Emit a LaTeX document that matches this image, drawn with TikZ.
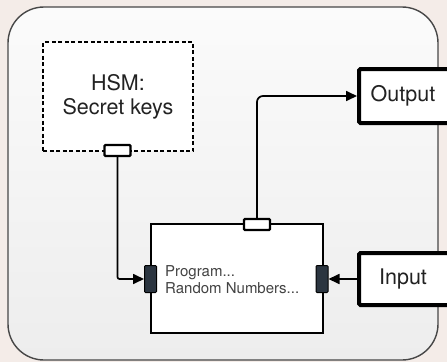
\documentclass[tikz,border=0pt]{standalone}
\usepackage{fontspec}
\setmainfont{TeX Gyre Heros}
\usetikzlibrary{arrows.meta}

\definecolor{pagebg}{HTML}{F4ECE8}
\definecolor{frameline}{HTML}{474747}
\definecolor{frametop}{HTML}{FBFBFB}
\definecolor{framebot}{HTML}{EDEDED}
\definecolor{portdark}{HTML}{2B3540}
\definecolor{txt}{HTML}{222222}

\tikzset{
  bigtext/.style={font=\fontsize{21.5}{25}\selectfont, text=txt},
  smalltext/.style={font=\fontsize{15}{17.5}\selectfont, text=txt!85},
  hsmbox/.style={draw=black, fill=white, dashed, dash pattern=on 4pt off 2.5pt,
    line width=1.3pt, minimum width=150pt, minimum height=109pt, inner sep=0pt,
    align=center},
  mainbox/.style={draw=black, fill=white, line width=1.5pt,
    minimum width=172pt, minimum height=109pt, inner sep=0pt},
  iobox/.style={draw=black, fill=white, line width=4pt, rounded corners=1.5pt,
    minimum width=96pt, inner sep=0pt},
  portlight/.style={draw=black, fill=white, line width=2.2pt, rounded corners=1pt,
    minimum width=26pt, minimum height=11pt, inner sep=0pt},
  portside/.style={draw=black, fill=portdark, line width=1pt, rounded corners=1pt,
    minimum width=12pt, minimum height=27pt, inner sep=0pt},
  wire/.style={draw=black, line width=1.7pt},
  tip/.style={-{Triangle[length=11pt,width=10pt]}},
}

\begin{document}
\begin{tikzpicture}[x=1pt,y=-1pt]
  % page and bounding box
  \fill[pagebg] (0,0) rectangle (447,362);
  \useasboundingbox (0,0) rectangle (447,362);

  % rounded enclosure with a soft vertical gradient
  \shade[top color=frametop, bottom color=framebot, rounded corners=36pt]
    (8,7) rectangle (438,360);
  \draw[frameline, line width=1.4pt, rounded corners=36pt]
    (8,7) rectangle (438,360);

  % HSM holding the keys
  \node[hsmbox, bigtext] (hsm) at (118,96.5) {HSM:\\[-1pt]Secret keys};
  \node[portlight] (hsmport) at (117.5,150.5) {};

  % processing unit
  \node[mainbox] (main) at (237,278.5) {};
  \node[portlight] (topport) at (257,224.5) {};
  \node[portside] (leftport) at (150.5,279) {};
  \node[portside] (rightport) at (322,279) {};
  \node[smalltext, anchor=north west, align=left, inner sep=0pt]
    (prog) at (165,265) {Program...\\Random Numbers...};

  % external interfaces (they run past the right edge of the page)
  \node[iobox, bigtext, minimum height=54pt] (output) at (407,96)
    {Output\kern8pt};
  \node[iobox, bigtext, minimum height=52pt] (input) at (407,279)
    {Input\kern8pt};

  % connections
  \draw[wire, tip, rounded corners=2pt]
    (hsmport.south) |- (leftport.west);
  \draw[wire, tip, rounded corners=6pt]
    (topport.north) |- (output.west);
  \draw[wire, tip] (input.west) -- (rightport.east);
\end{tikzpicture}
\end{document}
